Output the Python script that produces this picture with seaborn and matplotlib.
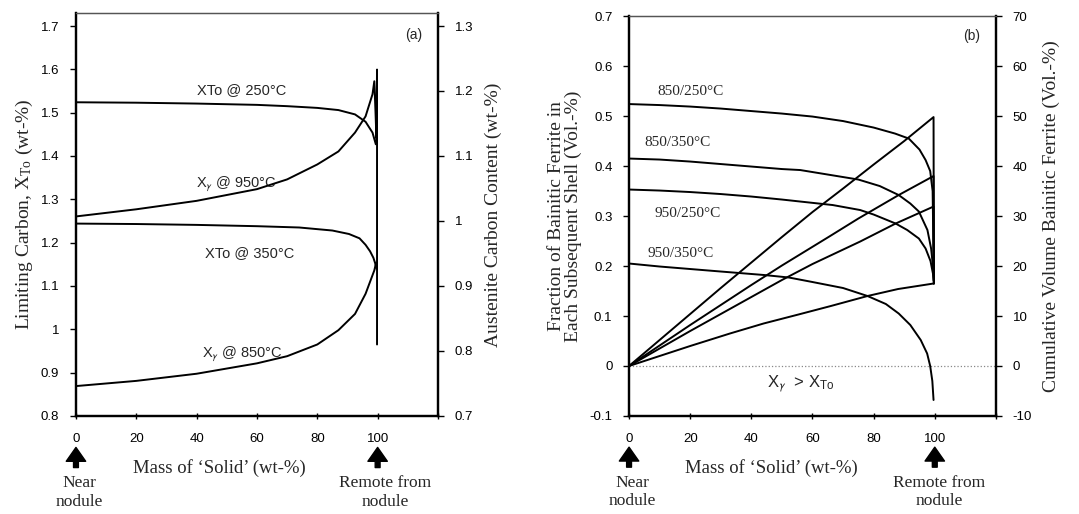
import numpy as np
import pandas as pd
import matplotlib
matplotlib.use("Agg")
import matplotlib.pyplot as plt
import seaborn as sns

# ---------------- data: panel (a) ----------------
xto250_x = [0, 20, 40, 60, 70, 80, 87, 92.5, 96, 98.3, 99.4, 99.7]
xto250_y = [1.524, 1.523, 1.521, 1.518, 1.515, 1.511, 1.506, 1.496, 1.479, 1.454, 1.427, 1.44]

xto350_x = [0, 20, 40, 60, 74, 85, 90.5, 94, 96, 97.5, 98.6, 99.3, 99.6]
xto350_y = [1.244, 1.243, 1.241, 1.238, 1.235, 1.228, 1.220, 1.210, 1.195, 1.18, 1.165, 1.15, 1.14]

# austenite carbon content (right axis)
xg950_x = [0, 20, 40, 60, 70, 80, 87, 92.5, 96, 98.3, 98.9, 99.3, 99.6, 99.8, 99.8]
xg950_y = [1.007, 1.018, 1.031, 1.049, 1.064, 1.087, 1.107, 1.136, 1.161, 1.195, 1.215, 1.167, 1.127, 1.233, 0.81]

xg850_x = [0, 20, 40, 60, 70, 80, 87, 92.5, 96, 98.9, 99.5]
xg850_y = [0.746, 0.754, 0.765, 0.781, 0.792, 0.810, 0.832, 0.857, 0.888, 0.924, 0.936]

# ---------------- data: panel (b) ----------------
f850_250_x = [0, 10, 20, 30, 40, 50, 60, 70, 80, 87, 91.5, 95, 97, 98.5, 99.3, 99.7]
f850_250_y = [0.524, 0.522, 0.519, 0.515, 0.510, 0.505, 0.499, 0.490, 0.477, 0.465, 0.455, 0.433, 0.412, 0.39, 0.35, 0.17]

f850_350_x = [0, 10, 20, 30, 40, 50, 56, 65, 75, 82, 88.2, 92, 94.8, 97.6, 98.8, 99.4, 99.7]
f850_350_y = [0.415, 0.413, 0.409, 0.404, 0.399, 0.394, 0.392, 0.383, 0.373, 0.360, 0.342, 0.325, 0.309, 0.272, 0.235, 0.20, 0.17]

f950_250_x = [0, 10, 20, 30, 40, 50, 56, 66.6, 75.6, 80, 87.2, 91, 94.8, 97, 98.6, 99.4, 99.7]
f950_250_y = [0.353, 0.351, 0.348, 0.344, 0.339, 0.333, 0.329, 0.322, 0.312, 0.303, 0.285, 0.272, 0.255, 0.235, 0.21, 0.185, 0.17]

f950_350_x = [0, 10, 20, 30, 44.2, 52.3, 60, 70, 78, 84, 88.2, 92, 95.4, 97.5, 98.5, 99.2, 99.6]
f950_350_y = [0.205, 0.199, 0.194, 0.189, 0.182, 0.177, 0.168, 0.156, 0.140, 0.124, 0.105, 0.082, 0.052, 0.025, 0.0, -0.03, -0.068]

# cumulative volume (right axis)
c850_250_x = [0, 10, 20, 30, 40, 50, 60, 70, 80, 90, 99.6, 99.7]
c850_250_y = [0, 5.2, 10.4, 15.6, 20.7, 25.8, 30.8, 35.5, 40.3, 45.0, 49.8, 16.5]
c850_350_x = [0, 10, 20, 30, 40, 50, 65.5, 75, 88.2, 99.6, 99.7]
c850_350_y = [0, 4.1, 8.2, 12.2, 16.2, 20.1, 25.9, 29.5, 34.2, 38.0, 16.5]
c950_250_x = [0, 10, 20, 30, 40, 50, 60, 75.6, 87.2, 99.6, 99.7]
c950_250_y = [0, 3.5, 7.0, 10.4, 13.8, 17.2, 20.4, 24.9, 28.5, 31.9, 16.5]
c950_350_x = [0, 10, 20, 33, 44, 55.4, 66, 78, 88, 99.6]
c950_350_y = [0, 2.0, 4.0, 6.5, 8.5, 10.3, 12.0, 14.0, 15.4, 16.5]

x_ticks = [0, 20, 40, 60, 80, 100, 120]
x_ticklabels = ["0", "20", "40", "60", "80", "100", ""]
a_left_ticks = [0.8, 0.9, 1.0, 1.1, 1.2, 1.3, 1.4, 1.5, 1.6, 1.7]
a_right_ticks = [0.7, 0.8, 0.9, 1.0, 1.1, 1.2, 1.3]
b_left_ticks = [-0.1, 0, 0.1, 0.2, 0.3, 0.4, 0.5, 0.6, 0.7]
b_right_ticks = [-10, 0, 10, 20, 30, 40, 50, 60, 70]

# ---------------- styling ----------------
sns.set_theme(style="ticks")
plt.rcParams["font.family"] = ["Liberation Sans", "DejaVu Sans"]
plt.rcParams["mathtext.fontset"] = "stixsans"
SERIF = ["Liberation Serif", "DejaVu Serif"]
SANS = ["Liberation Sans", "DejaVu Sans"]

fig = plt.figure(figsize=(10.79, 5.14), dpi=100)
ax1 = fig.add_axes([0.0704, 0.1907, 0.3355, 0.784])
ax2 = fig.add_axes([0.583, 0.1907, 0.340, 0.778])
ax1r = ax1.twinx()
ax2r = ax2.twinx()

LW = 1.4
def draw(ax, x, y):
    sns.lineplot(x=x, y=y, ax=ax, sort=False, estimator=None, color="black", lw=LW)

draw(ax1, xto250_x, xto250_y)
draw(ax1, xto350_x, xto350_y)
draw(ax1r, xg950_x, xg950_y)
draw(ax1r, xg850_x, xg850_y)

for xs, ys in [(f850_250_x, f850_250_y), (f850_350_x, f850_350_y),
               (f950_250_x, f950_250_y), (f950_350_x, f950_350_y)]:
    draw(ax2, xs, ys)
for xs, ys in [(c850_250_x, c850_250_y), (c850_350_x, c850_350_y),
               (c950_250_x, c950_250_y), (c950_350_x, c950_350_y)]:
    draw(ax2r, xs, ys)

ax2.axhline(0, color="#888888", ls=":", lw=0.9, zorder=0)

def fmt(v):
    return f"{v:g}"

TICKFS = 9.5
for ax, lt, lim in [(ax1, a_left_ticks, (0.8, 1.73)), (ax2, b_left_ticks, (-0.1, 0.7))]:
    ax.set_xlim(0, 120)
    ax.set_ylim(*lim)
    ax.set_xticks(x_ticks)
    ax.set_xticklabels(x_ticklabels, fontsize=TICKFS, family=SANS)
    ax.set_yticks(lt)
    ax.set_yticklabels([fmt(v) for v in lt], fontsize=TICKFS, family=SANS)
    ax.tick_params(axis="x", direction="inout", length=5, width=1, pad=10, colors="black")
    ax.tick_params(axis="y", direction="out", length=4, width=1, pad=8, colors="black")
    ax.set_xlabel("")
    ax.set_ylabel("")

for ax, rt, lim in [(ax1r, a_right_ticks, (0.7, 1.32)), (ax2r, b_right_ticks, (-10, 70))]:
    ax.set_ylim(*lim)
    ax.set_yticks(rt)
    ax.set_yticklabels([fmt(v) for v in rt], fontsize=TICKFS, family=SANS)
    ax.tick_params(axis="y", direction="out", length=4, width=1, pad=8, colors="black")
    ax.set_xlabel("")
    ax.set_ylabel("")

for ax in [ax1, ax2, ax1r, ax2r]:
    for s in ["left", "right", "bottom"]:
        ax.spines[s].set_visible(True)
        ax.spines[s].set_linewidth(1.6)
        ax.spines[s].set_color("black")
    ax.spines["top"].set_visible(True)
    ax.spines["top"].set_linewidth(0.9)
    ax.spines["top"].set_color("#555555")

YLFS = 14
# axis labels
ax1.set_ylabel("Limiting Carbon, X$_{\\mathregular{To}}$ (wt-%)", family=SERIF, fontsize=YLFS, labelpad=4)
ax1r.set_ylabel("Austenite Carbon Content (wt-%)", family=SERIF, fontsize=YLFS, labelpad=8)
ax2.set_ylabel("Fraction of Bainitic Ferrite in\nEach Subsequent Shell (Vol.-%)", family=SERIF,
               fontsize=YLFS, labelpad=5, linespacing=1.0)
ax2r.set_ylabel("Cumulative Volume Bainitic Ferrite (Vol.-%)", family=SERIF, fontsize=YLFS, labelpad=8)

# curve labels (a)
CFS = 10.5
ax1.text(55, 1.552, "XTo @ 250°C", fontsize=CFS, ha="center", va="center", family=SANS)
ax1.text(53, 1.336, "X$_\\gamma$ @ 950°C", fontsize=CFS, ha="center", va="center", family=SANS)
ax1.text(57.5, 1.175, "XTo @ 350°C", fontsize=CFS, ha="center", va="center", family=SANS)
ax1.text(55, 0.943, "X$_\\gamma$ @ 850°C", fontsize=CFS, ha="center", va="center", family=SANS)
ax1.text(112, 1.68, "(a)", fontsize=10, ha="center", va="center", family=SANS)

# curve labels (b)
ax2.text(20, 0.55, "850/250°C", fontsize=11, ha="center", va="center", family=SERIF)
ax2.text(16, 0.447, "850/350°C", fontsize=11, ha="center", va="center", family=SERIF)
ax2.text(19, 0.305, "950/250°C", fontsize=11, ha="center", va="center", family=SERIF)
ax2.text(17, 0.225, "950/350°C", fontsize=11, ha="center", va="center", family=SERIF)
ax2.text(56, -0.036, "X$_\\gamma$  > X$_{\\mathregular{To}}$", fontsize=12, ha="center", va="center", family=SANS)
ax2.text(112, 0.661, "(b)", fontsize=10, ha="center", va="center", family=SANS)

# arrows and bottom annotations
for ax, xlab_x, remote_x in [(ax1, 47.5, 102.5), (ax2, 46.5, 101.5)]:
    trans = ax.get_xaxis_transform()
    for xv in (0, 100):
        ax.annotate("", xy=(xv, -0.078), xytext=(xv, -0.128), xycoords=trans, textcoords=trans,
                    arrowprops=dict(facecolor="black", edgecolor="black", width=3.5,
                                    headwidth=14, headlength=10, shrink=0), annotation_clip=False)
    ax.text(xlab_x, -0.13, "Mass of \u2018Solid\u2019 (wt-%)", transform=trans, ha="center", va="center",
            family=SERIF, fontsize=13.5)
    ax.text(1, -0.19, "Near\nnodule", transform=trans, ha="center", va="center",
            family=SERIF, fontsize=12.5, linespacing=1.2)
    ax.text(remote_x, -0.19, "Remote from\nnodule", transform=trans, ha="center", va="center",
            family=SERIF, fontsize=12.5, linespacing=1.2)

fig.savefig("out.png", dpi=100)
